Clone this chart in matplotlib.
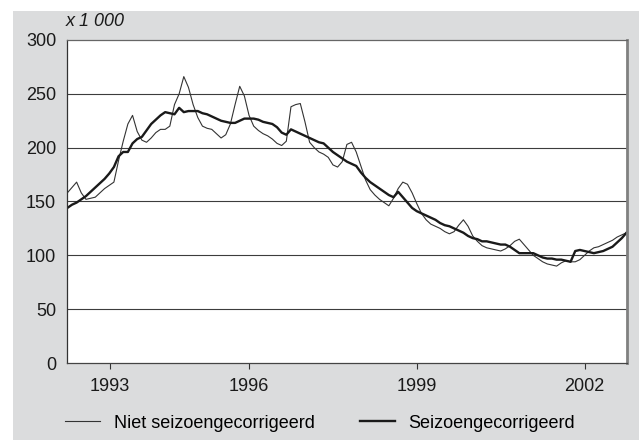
import matplotlib
matplotlib.use("Agg")
import matplotlib.pyplot as plt
from matplotlib.patches import Rectangle
import numpy as np

plt.rcParams['font.family'] = ['Liberation Sans', 'DejaVu Sans']

# monthly values (x 1 000), index 0 = first month shown
niet_sa = [158, 163, 168, 158, 152, 153, 154, 158, 162, 165,
           168, 188, 206, 222, 230, 215, 207, 205, 209, 214,
           217, 217, 220, 240, 250, 266, 256, 240, 228, 220,
           218, 217, 213, 209, 212, 222, 240, 257, 248, 230,
           220, 216, 213, 211, 208, 204, 202, 206, 238, 240,
           241, 224, 205, 200, 196, 194, 191, 184, 182, 187,
           203, 205, 196, 183, 170, 161, 156, 152, 149, 146,
           153, 162, 168, 166, 158, 148, 139, 133, 129, 127,
           125, 122, 120, 122, 128, 133, 127, 118, 113, 109,
           107, 106, 105, 104, 106, 109, 113, 115, 110, 105,
           100, 97, 94, 92, 91, 90, 93, 95, 94, 94,
           96, 100, 104, 107, 108, 110, 112, 114, 117, 119,
           121]
sa = [144, 147, 149, 152, 155, 159, 163, 167, 171, 176,
      182, 192, 196, 196, 204, 208, 210, 216, 222, 226,
      230, 233, 232, 231, 237, 233, 234, 234, 234, 232,
      231, 229, 227, 225, 224, 223, 223, 225, 227, 227,
      227, 226, 224, 223, 222, 219, 214, 212, 217, 215,
      213, 211, 209, 207, 205, 204, 200, 196, 193, 190,
      187, 185, 183, 177, 172, 168, 165, 162, 159, 156,
      154, 159, 154, 149, 144, 141, 139, 137, 135, 133,
      130, 128, 127, 125, 123, 121, 118, 116, 115, 113,
      113, 112, 111, 110, 110, 108, 105, 102, 102, 102,
      102, 100, 98, 97, 97, 96, 96, 95, 94, 104,
      105, 104, 103, 102, 103, 104, 106, 108, 112, 116,
      121]
tick_pos = [9.2, 39, 75, 111]
tick_labels = ['1993', '1996', '1999', '2002']
y_ticks = [0, 50, 100, 150, 200, 250, 300]

fig = plt.figure(figsize=(6.39, 4.40), dpi=100)
bg = Rectangle((13 / 639, 0), 1 - 13 / 639, 1 - 11 / 440,
               transform=fig.transFigure, facecolor='#dbdcdd',
               edgecolor='none', zorder=-10)
fig.patches.append(bg)
ax = fig.add_axes([67.3 / 639, 1 - 363 / 440, (626.5 - 67.3) / 639, 323 / 440])
ax.set_facecolor('white')

x = np.arange(len(sa))
ax.plot(x, niet_sa, color='#333333', lw=0.8, label='Niet seizoengecorrigeerd')
ax.plot(x, sa, color='#1a1a1a', lw=1.7, label='Seizoengecorrigeerd')

ax.set_xlim(0, len(sa) - 1)
ax.set_ylim(0, 300)
ax.set_yticks(y_ticks)
ax.set_xticks(tick_pos)
ax.set_xticklabels(tick_labels)
for v in y_ticks[1:-1]:
    ax.axhline(v, color='#3c3c3c', lw=0.8, zorder=1)

ax.tick_params(axis='y', length=0, pad=8, labelsize=13, colors='#1a1a1a')
ax.tick_params(axis='x', length=4, width=0.8, direction='out', pad=7,
               labelsize=13, colors='#1a1a1a', color='#333333')
ax.spines['left'].set_color('#333333')
ax.spines['bottom'].set_color('#444444')
ax.spines['top'].set_color('#666666')
ax.spines['right'].set_color('#808080')
ax.spines['right'].set_linewidth(2)
for s in ['left', 'bottom', 'top']:
    ax.spines[s].set_linewidth(0.9)

fig.text(66 / 639, 1 - 22 / 440, 'x 1 000', style='italic', fontsize=13,
         va='center', ha='left', color='#1a1a1a')

fig.legend(loc='center left', bbox_to_anchor=(65 / 639, 17 / 440), ncol=2,
           frameon=False, fontsize=13, handlelength=1.95, handletextpad=0.75,
           columnspacing=2.5, borderpad=0, borderaxespad=0)

fig.savefig('out.png', dpi=100, facecolor='white')
